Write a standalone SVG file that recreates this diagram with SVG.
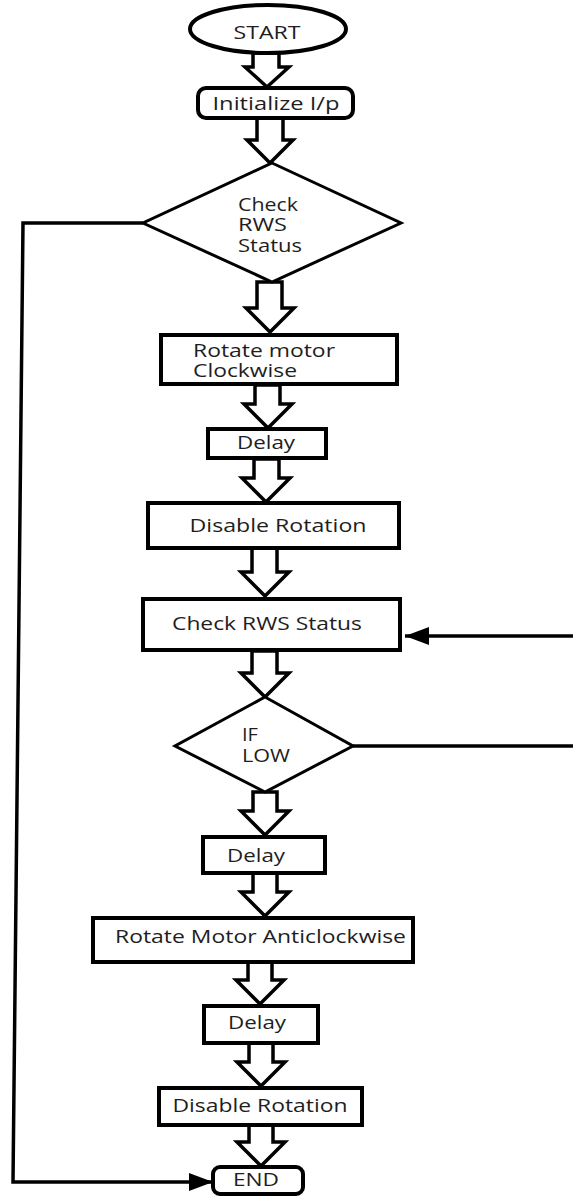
<svg xmlns="http://www.w3.org/2000/svg" width="573" height="1197" viewBox="0 0 573 1197">
<style>
.s{fill:#fff;stroke:#000;stroke-width:4}
.d{fill:#fff;stroke:#000;stroke-width:3}
.a{fill:#fff;stroke:#000;stroke-width:3.5;stroke-linejoin:miter}
.t{font-family:"Open Sans","Liberation Sans",sans-serif;font-size:19px;fill:#1e1e1e}
.c{text-anchor:middle}
.ln{fill:none;stroke:#000;stroke-width:3.5}
</style>
<defs>
<marker id="ah" viewBox="0 0 24 18" refX="24" refY="9" markerWidth="24" markerHeight="18" markerUnits="userSpaceOnUse" orient="auto"><path d="M0,0 L24,9 L0,18 Z" fill="#000"/></marker>
</defs>
<rect width="573" height="1197" fill="#fff"/>
<g id="connectors">
<polygon class="a" points="253,53 279,53 279,67 289,67 267,87 245,67 253,67"/>
<polygon class="a" points="257,118 283,118 283,140 293,140 270,163 247,140 257,140"/>
<polygon class="a" points="257,282 282,282 282,308 294,308 270,332 246,308 257,308"/>
<polygon class="a" points="255,385 280,385 280,404 292,404 268,428 244,404 255,404"/>
<polygon class="a" points="254,459 279,459 279,478 290,478 266,502 242,478 254,478"/>
<polygon class="a" points="252,548 277,548 277,572 289,572 265,596 241,572 252,572"/>
<polygon class="a" points="252,651 277,651 277,673 289,673 265,697 241,673 252,673"/>
<polygon class="a" points="253,792 277,792 277,811 289,811 265,835 241,811 253,811"/>
<polygon class="a" points="253,873 277,873 277,892 289,892 265,916 241,892 253,892"/>
<polygon class="a" points="248,962 272,962 272,980 284,980 260,1004 236,980 248,980"/>
<polygon class="a" points="249,1043 273,1043 273,1062 285,1062 261,1086 237,1062 249,1062"/>
<polygon class="a" points="249,1125 273,1125 273,1142 285,1142 261,1166 237,1142 249,1142"/>
<polyline class="ln" points="143,223 23,223 13,1182 213,1182" marker-end="url(#ah)"/>
<line class="ln" x1="573" y1="636" x2="405" y2="636" marker-end="url(#ah)"/>
<line class="ln" x1="353" y1="746" x2="573" y2="746"/>
</g>
<g id="start">
<ellipse class="s" cx="268" cy="29" rx="78" ry="24"/>
<text class="t c" x="267" y="39" textLength="67" lengthAdjust="spacingAndGlyphs">START</text>
</g>
<g id="init">
<rect class="s" x="198" y="88" width="155" height="30" rx="8"/>
<text class="t c" x="276" y="110" textLength="127" lengthAdjust="spacingAndGlyphs">Initialize I/p</text>
</g>
<g id="check1">
<polygon class="d" points="272,163 401,223 272,282 143,223"/>
<text class="t" x="238" y="211" textLength="60" lengthAdjust="spacingAndGlyphs">Check</text>
<text class="t" x="238" y="231" textLength="49" lengthAdjust="spacingAndGlyphs">RWS</text>
<text class="t" x="238" y="252" textLength="64" lengthAdjust="spacingAndGlyphs">Status</text>
</g>
<g id="rotcw">
<rect class="s" x="161" y="335" width="236" height="49"/>
<text class="t" x="193" y="357" textLength="142" lengthAdjust="spacingAndGlyphs">Rotate motor</text>
<text class="t" x="193" y="377" textLength="104" lengthAdjust="spacingAndGlyphs">Clockwise</text>
</g>
<g id="delay1">
<rect class="s" x="208" y="429" width="118" height="29"/>
<text class="t c" x="266" y="449" textLength="58" lengthAdjust="spacingAndGlyphs">Delay</text>
</g>
<g id="disable1">
<rect class="s" x="148" y="503" width="251" height="45"/>
<text class="t c" x="278" y="532" textLength="177" lengthAdjust="spacingAndGlyphs">Disable Rotation</text>
</g>
<g id="check2">
<rect class="s" x="143" y="599" width="257" height="51"/>
<text class="t c" x="267" y="630" textLength="190" lengthAdjust="spacingAndGlyphs">Check RWS Status</text>
</g>
<g id="iflow">
<polygon class="d" points="265,697 353,746 265,792 175,746"/>
<text class="t" x="242" y="741" textLength="16" lengthAdjust="spacingAndGlyphs">IF</text>
<text class="t" x="242" y="762" textLength="48" lengthAdjust="spacingAndGlyphs">LOW</text>
</g>
<g id="delay2">
<rect class="s" x="203" y="837" width="122" height="36"/>
<text class="t c" x="256" y="862" textLength="58" lengthAdjust="spacingAndGlyphs">Delay</text>
</g>
<g id="rotacw">
<rect class="s" x="93" y="918" width="320" height="44"/>
<text class="t" x="115" y="943" textLength="291" lengthAdjust="spacingAndGlyphs">Rotate Motor Anticlockwise</text>
</g>
<g id="delay3">
<rect class="s" x="204" y="1006" width="114" height="37"/>
<text class="t c" x="257" y="1029" textLength="58" lengthAdjust="spacingAndGlyphs">Delay</text>
</g>
<g id="disable2">
<rect class="s" x="159" y="1088" width="203" height="37"/>
<text class="t c" x="260" y="1112" textLength="175" lengthAdjust="spacingAndGlyphs">Disable Rotation</text>
</g>
<g id="end">
<rect class="s" x="213" y="1167" width="90" height="27" rx="7"/>
<text class="t c" x="256" y="1186" textLength="46" lengthAdjust="spacingAndGlyphs">END</text>
</g>
</svg>
